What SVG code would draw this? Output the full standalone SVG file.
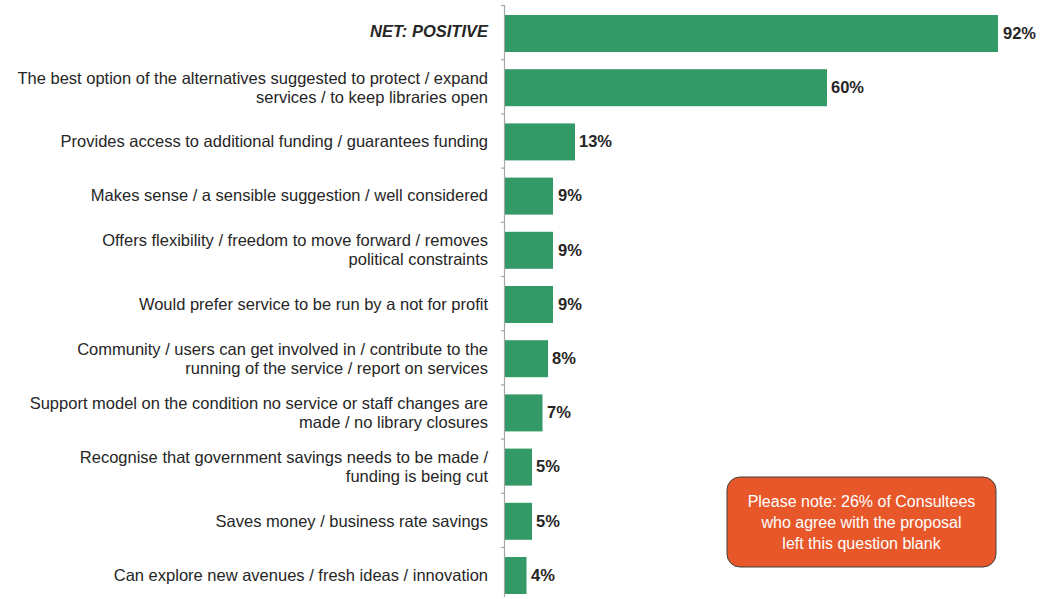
<svg xmlns="http://www.w3.org/2000/svg" width="1041" height="599" viewBox="0 0 1041 599">
<style>
.lbl{font-family:"Liberation Sans",Arial,sans-serif;font-size:16.5px;fill:#262626;text-anchor:end}
.val{font-family:"Liberation Sans",Arial,sans-serif;font-size:16.5px;font-weight:bold;fill:#262626}
.bar{fill:#339966}
.note{font-family:"Liberation Sans",Arial,sans-serif;font-size:16px;fill:#ffffff;text-anchor:middle}
</style>
<rect width="1041" height="599" fill="#ffffff"/>
<g id="axis" stroke="#a6a6a6" stroke-width="1.2">
<line x1="504.5" y1="5" x2="504.5" y2="597"/>
<line x1="501" y1="5.5" x2="504.5" y2="5.5"/>
<line x1="501" y1="59.7" x2="504.5" y2="59.7"/>
<line x1="501" y1="113.9" x2="504.5" y2="113.9"/>
<line x1="501" y1="168.1" x2="504.5" y2="168.1"/>
<line x1="501" y1="222.3" x2="504.5" y2="222.3"/>
<line x1="501" y1="276.5" x2="504.5" y2="276.5"/>
<line x1="501" y1="330.7" x2="504.5" y2="330.7"/>
<line x1="501" y1="384.9" x2="504.5" y2="384.9"/>
<line x1="501" y1="439.1" x2="504.5" y2="439.1"/>
<line x1="501" y1="493.3" x2="504.5" y2="493.3"/>
<line x1="501" y1="547.5" x2="504.5" y2="547.5"/>
</g>
<g id="n1"><text class="lbl" x="488" y="37" font-weight="bold" font-style="italic">NET: POSITIVE</text><rect class="bar" x="505" y="15" width="493" height="37"/><text class="val" x="1003" y="39">92%</text></g>
<g id="n2"><text class="lbl" x="488" y="84">The best option of the alternatives suggested to protect / expand</text><text class="lbl" x="488" y="103">services / to keep libraries open</text><rect class="bar" x="505" y="69.2" width="322" height="37"/><text class="val" x="831" y="93">60%</text></g>
<g id="n3"><text class="lbl" x="488" y="147">Provides access to additional funding / guarantees funding</text><rect class="bar" x="505" y="123.4" width="70" height="37"/><text class="val" x="579" y="147">13%</text></g>
<g id="n4"><text class="lbl" x="488" y="201">Makes sense / a sensible suggestion / well considered</text><rect class="bar" x="505" y="177.6" width="48" height="37"/><text class="val" x="558" y="201">9%</text></g>
<g id="n5"><text class="lbl" x="488" y="246">Offers flexibility / freedom to move forward / removes</text><text class="lbl" x="488" y="265">political constraints</text><rect class="bar" x="505" y="231.8" width="48" height="37"/><text class="val" x="558" y="256">9%</text></g>
<g id="n6"><text class="lbl" x="488" y="310">Would prefer service to be run by a not for profit</text><rect class="bar" x="505" y="286" width="48" height="37"/><text class="val" x="558" y="310">9%</text></g>
<g id="n7"><text class="lbl" x="488" y="355">Community / users can get involved in / contribute to the</text><text class="lbl" x="488" y="374">running of the service / report on services</text><rect class="bar" x="505" y="340.2" width="43" height="37"/><text class="val" x="552" y="364">8%</text></g>
<g id="n8"><text class="lbl" x="488" y="409">Support model on the condition no service or staff changes are</text><text class="lbl" x="488" y="428">made / no library closures</text><rect class="bar" x="505" y="394.4" width="37.5" height="37"/><text class="val" x="547" y="418">7%</text></g>
<g id="n9"><text class="lbl" x="488" y="463">Recognise that government savings needs to be made /</text><text class="lbl" x="488" y="482">funding is being cut</text><rect class="bar" x="505" y="448.6" width="27" height="37"/><text class="val" x="536" y="472">5%</text></g>
<g id="n10"><text class="lbl" x="488" y="527">Saves money / business rate savings</text><rect class="bar" x="505" y="502.8" width="27" height="37"/><text class="val" x="536" y="527">5%</text></g>
<g id="n11"><text class="lbl" x="488" y="581">Can explore new avenues / fresh ideas / innovation</text><rect class="bar" x="505" y="557" width="21.5" height="37"/><text class="val" x="531" y="581">4%</text></g>
<g id="note"><rect x="727" y="477" width="269" height="90" rx="13" ry="13" fill="#e8572a" stroke="#404040" stroke-width="1"/><text class="note" x="861.5" y="507">Please note: 26% of Consultees</text><text class="note" x="861.5" y="528">who agree with the proposal</text><text class="note" x="861.5" y="549">left this question blank</text></g>
<g id="connectors"/>
</svg>
